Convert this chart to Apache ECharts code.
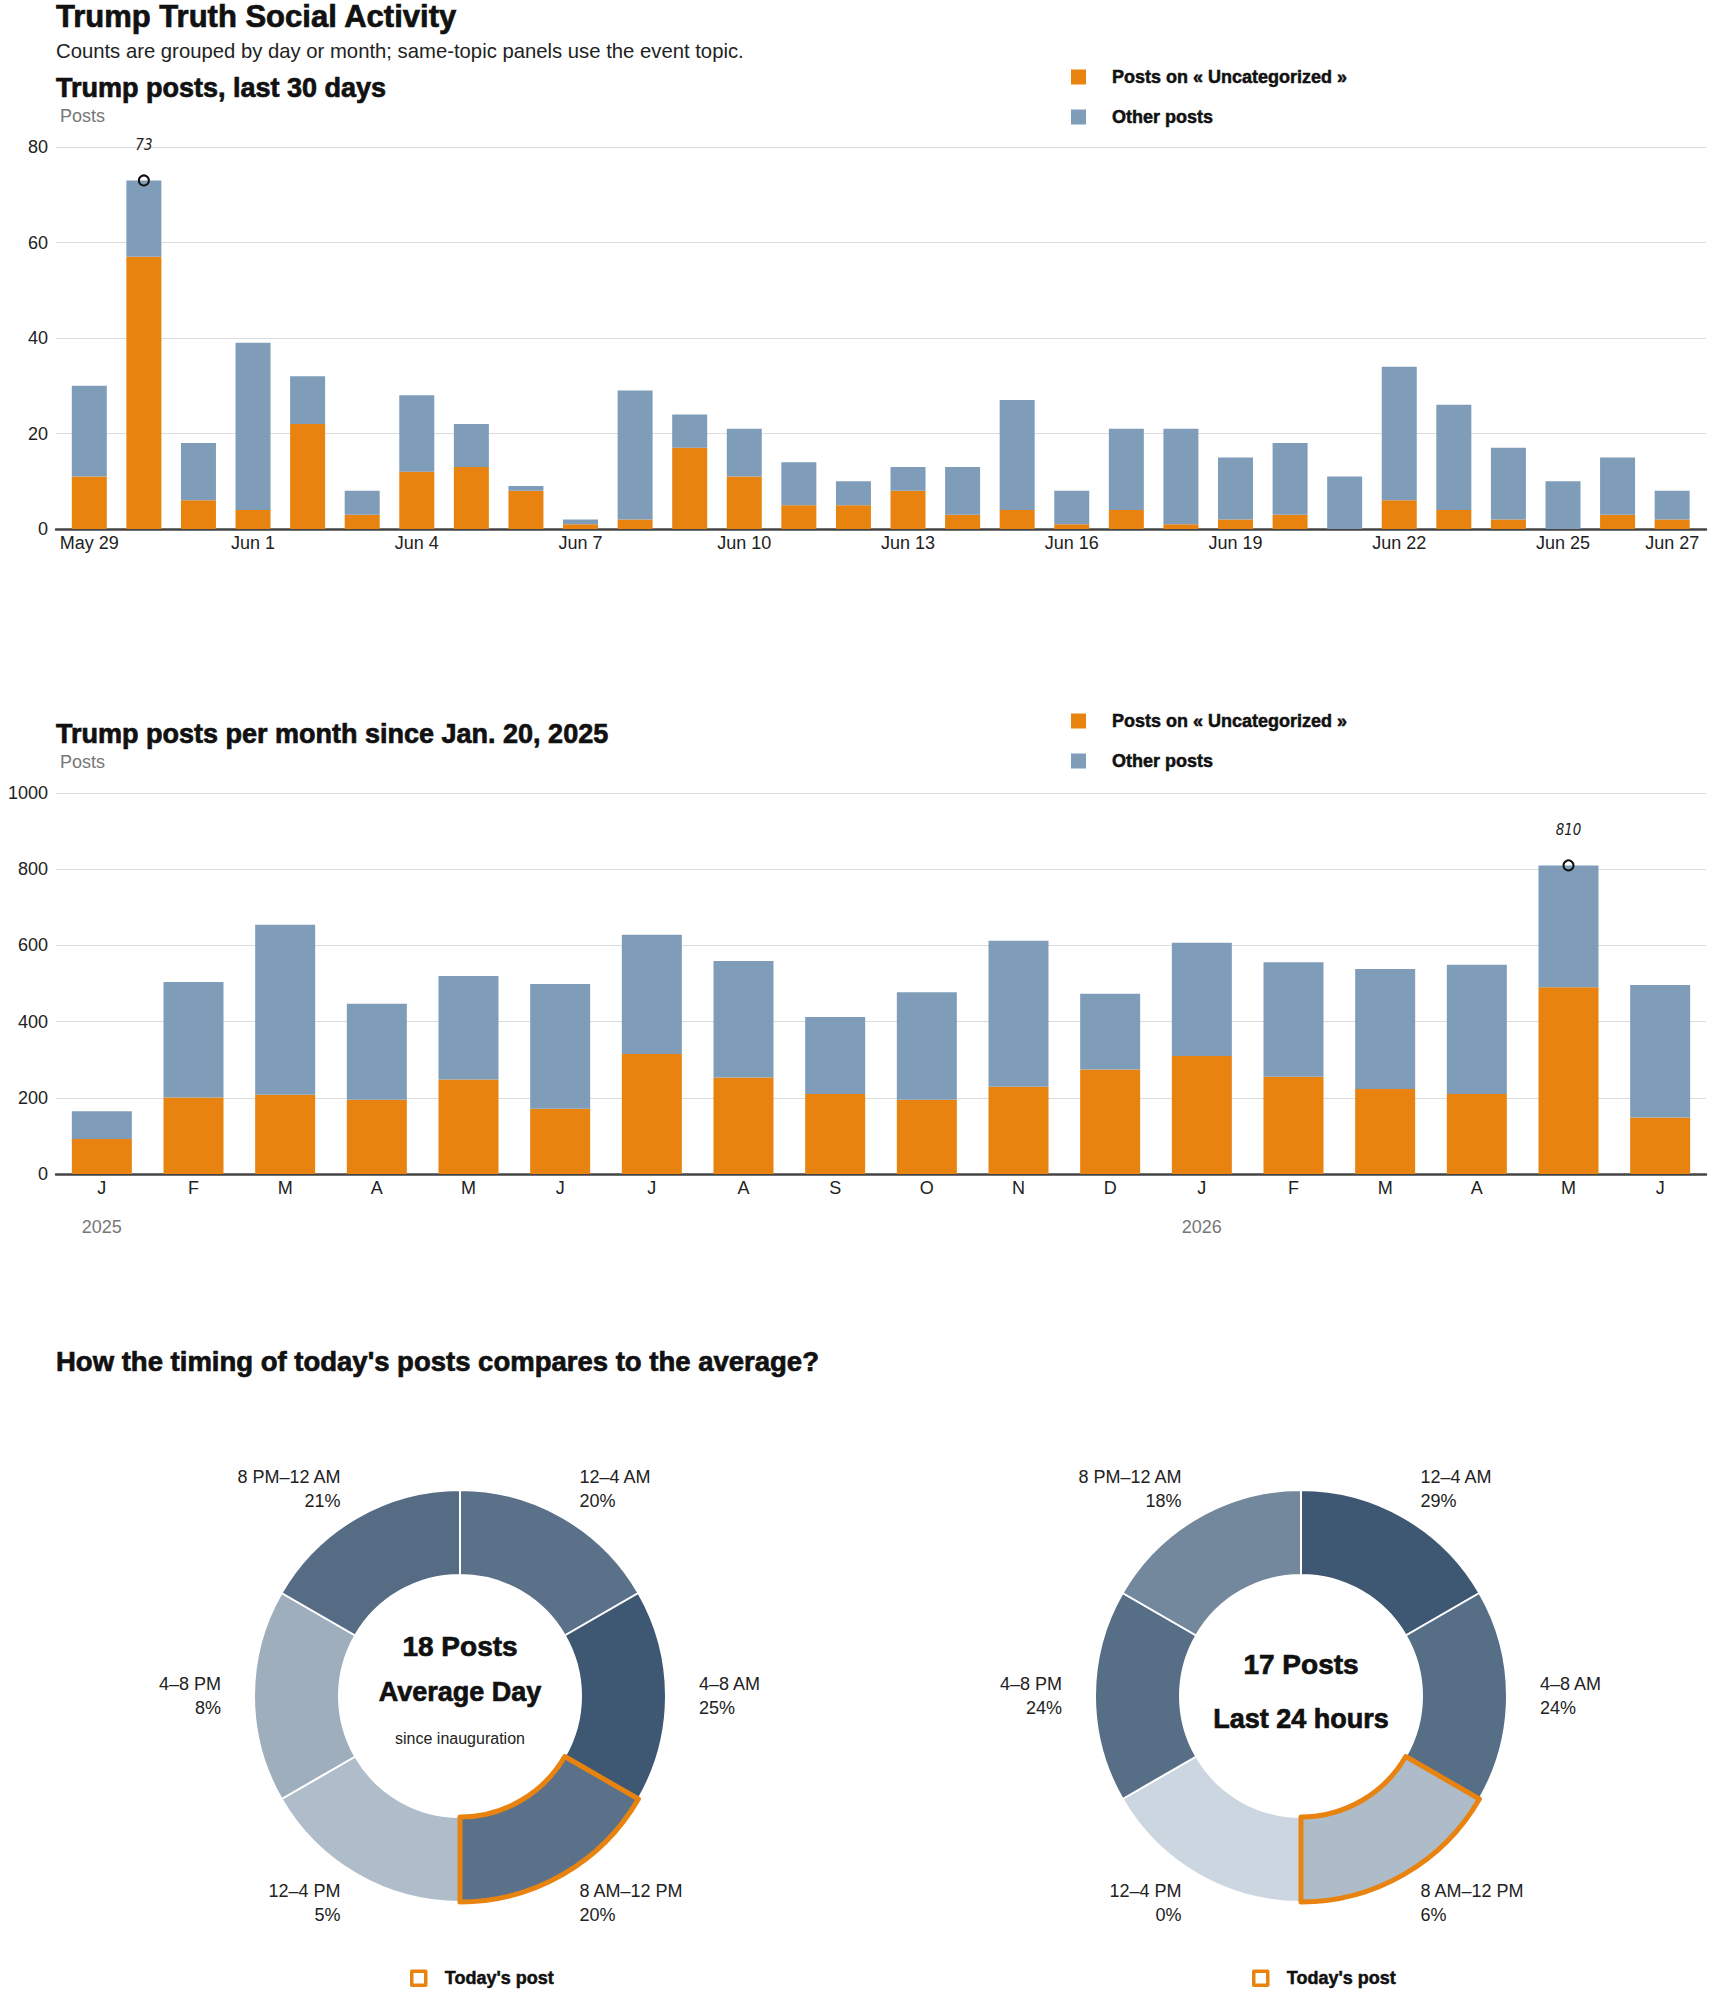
<!DOCTYPE html>
<html>
<head>
<meta charset="utf-8">
<script src="https://cdn.jsdelivr.net/npm/echarts@6/dist/echarts.min.js"></script>
<style>
html,body{margin:0;padding:0;background:#fff;}
#chart{width:1710px;height:1993px;}
</style>
</head>
<body>
<div id="chart"></div>
<script>
// ---------- DATA ----------
const dayLabels = ['May 29','May 30','May 31','Jun 1','Jun 2','Jun 3','Jun 4','Jun 5','Jun 6','Jun 7',
  'Jun 8','Jun 9','Jun 10','Jun 11','Jun 12','Jun 13','Jun 14','Jun 15','Jun 16','Jun 17',
  'Jun 18','Jun 19','Jun 20','Jun 21','Jun 22','Jun 23','Jun 24','Jun 25','Jun 26','Jun 27'];
const dayTickLabels = ['May 29','Jun 1','Jun 4','Jun 7','Jun 10','Jun 13','Jun 16','Jun 19','Jun 22','Jun 25','Jun 27'];
const dayTopicPosts = [11,57,6,4,22,3,12,13,8,1,2,17,11,5,5,8,3,4,1,4,1,2,3,0,6,4,2,0,3,2];
const dayOtherPosts = [19,16,12,35,10,5,16,9,1,1,27,7,10,9,5,5,10,23,7,17,20,13,15,11,28,22,15,10,12,6];

const monthKeys = ['2025-01','2025-02','2025-03','2025-04','2025-05','2025-06','2025-07','2025-08','2025-09',
  '2025-10','2025-11','2025-12','2026-01','2026-02','2026-03','2026-04','2026-05','2026-06'];
const monthLetters = ['J','F','M','A','M','J','J','A','S','O','N','D'];
const monthTopicPosts = [92,201,208,195,248,171,315,253,210,195,229,274,310,255,223,210,490,148];
const monthOtherPosts = [73,303,446,252,272,328,313,306,202,282,383,199,297,301,315,339,320,348];

const timeSlots = ['12–4 AM','4–8 AM','8 AM–12 PM','12–4 PM','4–8 PM','8 PM–12 AM'];
const avgSharePct = [20,25,20,5,8,21];
const last24SharePct = [29,24,6,0,24,18];
const avgDayPosts = 18;
const last24Posts = 17;
const todaySlot = '8 AM–12 PM';

// ---------- STYLE ----------
const ORANGE = '#E8830F';
const BLUE = '#7F9DB9';
const SLOT_LIGHT = '#cbd6e0';
const SLOT_DARK = '#3e5873';
const TOPIC = 'Posts on « Uncategorized »';
const OTHER = 'Other posts';
const TODAY = "Today's post";
const FONT = "'Liberation Sans', Arial, Helvetica, sans-serif";
const NARROW = "'Liberation Sans Narrow', 'DejaVu Sans Condensed', 'Liberation Sans', sans-serif";
const HEAVY = {textBorderColor: '#111', textBorderWidth: 0.7};

const dayTotals = dayTopicPosts.map((v, i) => v + dayOtherPosts[i]);
const monthTotals = monthTopicPosts.map((v, i) => v + monthOtherPosts[i]);
const dayMax = Math.max(...dayTotals), dayMaxIdx = dayTotals.indexOf(dayMax);
const monthMax = Math.max(...monthTotals), monthMaxIdx = monthTotals.indexOf(monthMax);

const chart = echarts.init(document.getElementById('chart'), null, {renderer: 'svg'});

function titleItem(text, left, top, size, weight, color, align) {
  const ts = {fontFamily: FONT, fontSize: size, fontWeight: weight, color, lineHeight: size};
  if (weight === 'bold') Object.assign(ts, HEAVY);
  const t = {text, left, top, padding: 0, textStyle: ts};
  if (align) t.textAlign = align;
  return t;
}

function yAxisBase(grid, max, interval) {
  return {
    type: 'value', gridIndex: grid, min: 0, max, interval,
    name: 'Posts', nameLocation: 'end', nameGap: 31,
    nameTextStyle: {align: 'left', verticalAlign: 'middle', color: '#777', fontSize: 18, fontFamily: FONT, padding: [0,0,0,4]},
    axisLine: {show: false, onZero: false}, axisTick: {show: false},
    axisLabel: {color: '#222', fontSize: 18, fontFamily: FONT, margin: 8, formatter: v => String(v)},
    splitLine: {lineStyle: {color: '#dcdcdc', width: 1}}
  };
}

function markPointFor(idxOrCat, val) {
  return {
    symbol: 'circle', symbolSize: 10, silent: true,
    itemStyle: {color: 'rgba(0,0,0,0)', borderColor: '#111', borderWidth: 2},
    label: {show: true, position: 'top', distance: 22, formatter: '{c}',
      fontStyle: 'italic', fontFamily: NARROW, fontSize: 15, color: '#222'},
    data: [{coord: [idxOrCat, val], value: val}]
  };
}

function barLegend(top) {
  return {
    data: [TOPIC, OTHER], orient: 'vertical', left: 1071, top, padding: 0,
    itemWidth: 15, itemHeight: 15, itemGap: 20, icon: 'rect', selectedMode: false,
    textStyle: Object.assign({fontFamily: FONT, fontSize: 18, fontWeight: 'bold', color: '#111', lineHeight: 20,
      padding: [0,0,0,21]}, {textBorderColor: '#111', textBorderWidth: 0.5})
  };
}

function todayLegend(left) {
  return {
    data: [{name: TODAY, icon: 'rect', itemStyle: {color: 'rgba(0,0,0,0)', borderColor: ORANGE, borderWidth: 3.5}}],
    left, top: 1969, padding: 0, itemWidth: 14, itemHeight: 14, selectedMode: false,
    textStyle: Object.assign({fontFamily: FONT, fontSize: 18, fontWeight: 'bold', color: '#111', lineHeight: 18,
      padding: [0,0,0,14]}, {textBorderColor: '#111', textBorderWidth: 0.5})
  };
}

function slotDataset(pcts) {
  return {dimensions: ['slot','share','pct'], sourceHeader: false,
    source: timeSlots.map((s, i) => [s, 1, pcts[i]])};
}

function slotPie(datasetIndex, cx) {
  return {
    type: 'pie', datasetIndex, center: [cx, 1696], radius: [121, 206],
    startAngle: 90, clockwise: true, avoidLabelOverlap: false, silent: true,
    encode: {itemName: 'slot', value: 'share'},
    itemStyle: {borderColor: '#fff', borderWidth: 2},
    label: {show: true, position: 'outside', distanceToLabelLine: 0,
      formatter: p => p.name + '\n' + p.value[2] + '%',
      fontFamily: FONT, fontSize: 18, lineHeight: 24, color: '#222'},
    labelLine: {show: false, length: 33, length2: 0},
    emphasis: {disabled: true}
  };
}

function todayPie(cx) {
  return {
    type: 'pie', name: TODAY, center: [cx, 1696], radius: [121, 206],
    startAngle: 90, clockwise: true, silent: true, z: 5,
    itemStyle: {color: 'rgba(0,0,0,0)', borderColor: ORANGE, borderWidth: 5},
    label: {show: false}, labelLine: {show: false}, emphasis: {disabled: true},
    data: timeSlots.map(s => s === todaySlot
      ? {name: s, value: 1}
      : {name: s, value: 1, itemStyle: {borderWidth: 0, borderColor: 'rgba(0,0,0,0)'}})
  };
}

// day bars on a numeric index axis; value column first so that it is the stacked dimension
function dayBar(name, values, color, extra) {
  return Object.assign({
    name, type: 'bar', xAxisIndex: 0, yAxisIndex: 0, stack: 'day', barWidth: 35,
    itemStyle: {color}, emphasis: {disabled: true},
    encode: {x: 1, y: 0},
    data: values.map((v, i) => [v, i])
  }, extra || {});
}

const option = {
  animation: false,
  backgroundColor: '#fff',
  textStyle: {fontFamily: FONT},
  title: [
    titleItem('Trump Truth Social Activity', 56, 1, 31, 'bold', '#111'),
    titleItem('Counts are grouped by day or month; same-topic panels use the event topic.', 56, 41, 20.3, 'normal', '#222'),
    titleItem('Trump posts, last 30 days', 56, 74, 27, 'bold', '#111'),
    titleItem('Trump posts per month since Jan. 20, 2025', 56, 720, 27, 'bold', '#111'),
    titleItem("How the timing of today's posts compares to the average?", 56, 1348, 27.5, 'bold', '#111'),
    titleItem(avgDayPosts + ' Posts', 460, 1632, 28, 'bold', '#111', 'center'),
    titleItem('Average Day', 460, 1678, 27, 'bold', '#111', 'center'),
    titleItem('since inauguration', 460, 1730, 16, 'normal', '#222', 'center'),
    titleItem(last24Posts + ' Posts', 1301, 1650, 28, 'bold', '#111', 'center'),
    titleItem('Last 24 hours', 1301, 1705, 27, 'bold', '#111', 'center')
  ],
  legend: [barLegend(67), barLegend(711), todayLegend(410), todayLegend(1252)],
  grid: [
    {left: 56, right: 4, top: 147, height: 382, outerBoundsMode: 'none'},
    {left: 56, right: 4, top: 793, height: 381, outerBoundsMode: 'none'}
  ],
  xAxis: [
    {
      type: 'value', gridIndex: 0, min: -0.61, max: 29.62,
      axisLine: {onZero: false, lineStyle: {color: '#444', width: 2.5}}, axisTick: {show: false}, splitLine: {show: false},
      axisLabel: {customValues: dayTickLabels.map(l => dayLabels.indexOf(l)),
        formatter: v => dayLabels[Math.round(v)], color: '#222', fontSize: 18, fontFamily: FONT, margin: 5}
    },
    {
      type: 'category', gridIndex: 1, data: monthKeys,
      axisLine: {lineStyle: {color: '#444', width: 2.5}}, axisTick: {show: false},
      axisLabel: {interval: 0, formatter: k => monthLetters[parseInt(k.slice(5), 10) - 1],
        color: '#222', fontSize: 18, fontFamily: FONT, margin: 5}
    },
    {
      type: 'category', gridIndex: 1, data: monthKeys, position: 'bottom', offset: 39,
      axisLine: {show: false}, axisTick: {show: false},
      axisLabel: {interval: 0, formatter: k => (k.slice(5) === '01' ? k.slice(0, 4) : ''),
        color: '#777', fontSize: 18, fontFamily: FONT, margin: 5}
    }
  ],
  yAxis: [yAxisBase(0, 80, 20), yAxisBase(1, 1000, 200)],
  dataset: [slotDataset(avgSharePct), slotDataset(last24SharePct)],
  visualMap: [
    {type: 'continuous', show: false, seriesIndex: 4, dimension: 2, min: 0, max: Math.max(...avgSharePct),
      inRange: {color: [SLOT_LIGHT, SLOT_DARK]}},
    {type: 'continuous', show: false, seriesIndex: 6, dimension: 2, min: 0, max: Math.max(...last24SharePct),
      inRange: {color: [SLOT_LIGHT, SLOT_DARK]}}
  ],
  series: [
    dayBar(TOPIC, dayTopicPosts, ORANGE),
    dayBar(OTHER, dayOtherPosts, BLUE, {markPoint: markPointFor(dayMaxIdx, dayMax)}),
    {name: TOPIC, type: 'bar', xAxisIndex: 1, yAxisIndex: 1, stack: 'month', barWidth: 60,
      itemStyle: {color: ORANGE}, emphasis: {disabled: true},
      data: monthTopicPosts},
    {name: OTHER, type: 'bar', xAxisIndex: 1, yAxisIndex: 1, stack: 'month', barWidth: 60,
      itemStyle: {color: BLUE}, emphasis: {disabled: true},
      data: monthOtherPosts,
      markPoint: markPointFor(monthKeys[monthMaxIdx], monthMax)},
    slotPie(0, 460),
    todayPie(460),
    slotPie(1, 1301),
    todayPie(1301)
  ]
};

chart.setOption(option);
</script>
</body>
</html>
